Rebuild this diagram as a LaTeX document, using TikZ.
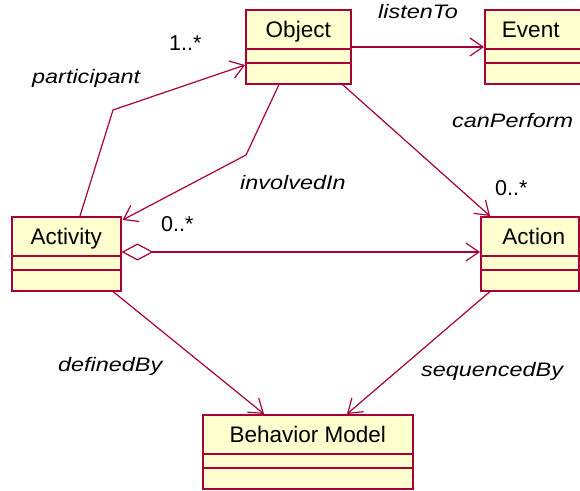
\documentclass[tikz,border=0pt]{standalone}
\usepackage{fontspec}
\setmainfont{Liberation Sans}
\newfontfamily\lblfont{Liberation Sans}[FakeStretch=1.2]
\usetikzlibrary{arrows.meta,calc}
\definecolor{umlred}{HTML}{A80036}
\definecolor{umlfill}{HTML}{FEFECE}
\tikzset{
  cls/.style={draw=umlred, fill=umlfill, line width=1.5pt, rectangle, inner sep=0pt, anchor=north west, minimum height=74pt},
  sep/.style={draw=umlred, line width=1.5pt},
  ttl/.style={anchor=base, inner sep=0pt, font=\fontsize{22.5}{26}\selectfont},
  lbl/.style={anchor=base west, inner sep=0pt, font=\lblfont\fontsize{19.5}{24}\selectfont\itshape},
  mult/.style={anchor=base west, inner sep=0pt, font=\fontsize{21.5}{26}\selectfont},
  assoc/.style={draw=umlred, line width=1.2pt, -{Straight Barb[length=13pt,width=18pt,line width=1.2pt]}},
  aggr/.style={draw=umlred, line width=1.2pt, {Diamond[open,length=32pt,width=17pt,line width=1.2pt]}-{Straight Barb[length=13pt,width=18pt,line width=1.2pt]}}
}
\begin{document}
\begin{tikzpicture}[x=1pt,y=-1pt]
\useasboundingbox[fill=white] (0,0) rectangle (580,490);
% classes
\node[cls, minimum width=105pt] (obj) at (245,9) {};
\node[cls, minimum width=96pt]  (evt) at (484,9) {};
\node[cls, minimum width=109pt] (act) at (11,216) {};
\node[cls, minimum width=98pt]  (acn) at (480,216) {};
\node[cls, minimum width=210pt] (bm)  at (202,414) {};
\foreach \n in {obj,evt,act,acn,bm}{
  \draw[sep] ($(\n.north west)+(0,40)$) -- ($(\n.north east)+(0,40)$);
  \draw[sep] ($(\n.north west)+(0,54)$) -- ($(\n.north east)+(0,54)$);
}
\node[ttl] (tobj) at ($(obj.north)+(0,28.5)$) {Object};
\node[ttl] (tevt) at ($(evt.north)+(-2,28.5)$) {Event};
\node[ttl] (tact) at ($(act.north)+(0,28.5)$) {Activity};
\node[ttl] (tacn) at ($(acn.north)+(4,28.5)$) {Action};
\node[ttl] (tbm)  at ($(bm.north)+(0,28.5)$) {Behavior Model};
% connectors
\coordinate (p1) at (113,110);
\draw[assoc] ($(act.north west)+(69,0)$) -- (p1) -- ($(obj.north west)+(0,56)$);
\coordinate (p2) at (246,155);
\draw[assoc] ($(obj.south west)+(34,0)$) -- (p2) -- ($(act.north east)+(1,4)$);
\draw[assoc] ($(obj.north east)+(0,38)$) -- ($(evt.north west)+(0,38)$);
\draw[assoc] ($(obj.south east)+(-9,0)$) -- ($(acn.north west)+(10,0)$);
\draw[aggr] ($(act.north east)+(0,36)$) -- ($(acn.north west)+(0,36)$);
\draw[assoc] ($(act.south west)+(102,0)$) -- ($(bm.north west)+(62,0)$);
\draw[assoc] ($(acn.south west)+(10,0)$) -- ($(bm.north west)+(145,0)$);
% labels
\node[lbl]  (l1) at (378,18)  {listenTo};
\node[lbl]  (l2) at (32,83)   {participant};
\node[mult] (m1) at (169,50)  {1..*};
\node[lbl]  (l3) at (240,189) {involvedIn};
\node[mult] (m2) at (161,231) {0..*};
\node[lbl]  (l4) at (452,127) {canPerform};
\node[mult] (m3) at (495,195) {0..*};
\node[lbl]  (l5) at (58,371)  {definedBy};
\node[lbl]  (l6) at (421,376) {sequencedBy};
\end{tikzpicture}
\end{document}
